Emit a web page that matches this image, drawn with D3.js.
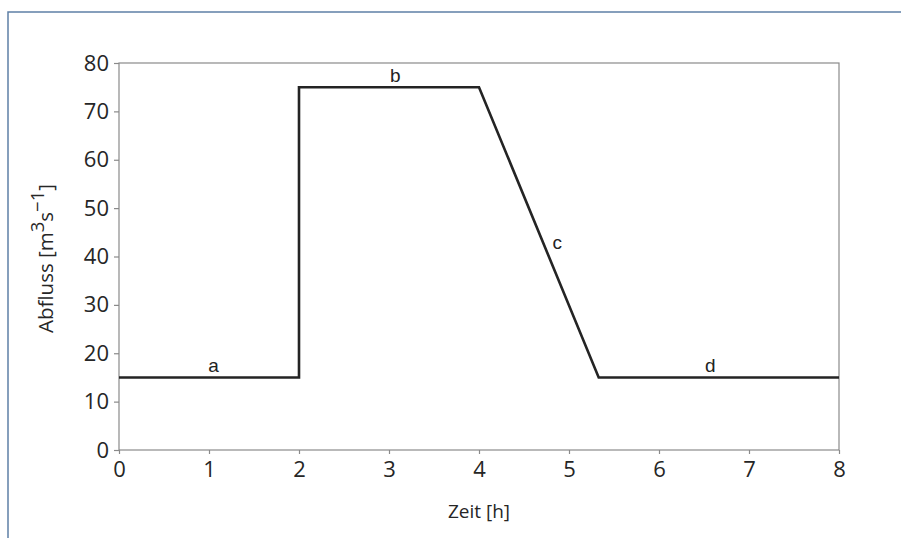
<!DOCTYPE html>
<html>
<head>
<meta charset="utf-8">
<script src="https://cdn.jsdelivr.net/npm/d3@7"></script>
<style>
  body { margin: 0; background: #fff; }
  svg { display: block; }
</style>
</head>
<body>
<svg id="chart" width="901" height="538"></svg>
<script>
// hydrograph: time in hours, discharge in m3/s
const zeit = [0, 2, 2, 4, 5.33, 8];
const abfluss = [15, 15, 75, 75, 15, 15];
const xTicks = [0, 1, 2, 3, 4, 5, 6, 7, 8];
const yTicks = [0, 10, 20, 30, 40, 50, 60, 70, 80];
const segLabels = ["a", "b", "c", "d"];
const segX = [1.05, 3.07, 4.87, 6.57];
const segY = [15, 75, 43, 15];

const svg = d3.select("#chart");
const margin = {top: 63, right: 62, bottom: 88, left: 119};
const width = 901 - margin.left - margin.right,
	height = 538 - margin.top - margin.bottom;

// outer frame (top + left only)
svg.append("path")
	.attr("d", "M8,538 L8,12 L901,12")
	.style("fill", "none")
	.style("stroke", "#5f80a6")
	.style("stroke-width", 1.5);

const g = svg.append("g")
	.attr("transform", "translate(" + margin.left + "," + margin.top + ")");

const x = d3.scaleLinear().domain([0, 8]).range([0, width]);
const y = d3.scaleLinear().domain([0, 80]).range([height, 0]);

// plot box
g.append("rect")
	.attr("width", width)
	.attr("height", height)
	.style("fill", "none")
	.style("stroke", "#8a8a8a")
	.style("stroke-width", 1.2);

const xAxis = g.append("g")
	.attr("transform", "translate(0," + height + ")")
	.call(d3.axisBottom(x).tickValues(xTicks).tickSize(4).tickPadding(7).tickFormat(d3.format("d")));

const yAxis = g.append("g")
	.call(d3.axisLeft(y).tickValues(yTicks).tickSize(5).tickPadding(5).tickFormat(d3.format("d")));

[xAxis, yAxis].forEach(a => {
	a.attr("font-size", null).attr("font-family", null);
	a.select(".domain").remove();
	a.selectAll(".tick line").style("stroke", "#8a8a8a").style("stroke-width", 1.2);
	a.selectAll(".tick text")
		.style("font-family", "'Open Sans', sans-serif")
		.style("font-size", "22px")
		.style("fill", "#262626");
});

const pts = zeit.map((t, i) => [t, abfluss[i]]);
const line = d3.line().x(d => x(d[0])).y(d => y(d[1]));

g.append("path")
	.datum(pts)
	.attr("d", line)
	.style("fill", "none")
	.style("stroke", "#242424")
	.style("stroke-width", 2.6)
	.style("stroke-linejoin", "miter");

g.selectAll(".segLabel")
	.data(segLabels)
	.enter()
	.append("text")
	.attr("class", "segLabel")
	.attr("x", (d, i) => x(segX[i]))
	.attr("y", (d, i) => i == 2 ? y(segY[i]) + 7 : y(segY[i]) - 5)
	.attr("text-anchor", "middle")
	.style("font-family", "'Liberation Sans', Arial, sans-serif")
	.style("font-size", "19px")
	.style("fill", "#222")
	.text(d => d);

// axis titles
svg.append("text")
	.attr("x", margin.left + width / 2)
	.attr("y", 518)
	.attr("text-anchor", "middle")
	.style("font-family", "'Open Sans', sans-serif")
	.style("font-size", "19px")
	.style("fill", "#262626")
	.text("Zeit [h]");

const yTitle = svg.append("text")
	.attr("transform", "translate(53," + (margin.top + height / 2 + 2) + ") rotate(-90)")
	.attr("text-anchor", "middle")
	.style("font-family", "'Open Sans', sans-serif")
	.style("font-size", "20.5px")
	.style("fill", "#262626");
yTitle.append("tspan").text("Abfluss [m");
yTitle.append("tspan").attr("dy", -9).style("font-size", "18.5px").text("3");
yTitle.append("tspan").attr("dy", 9).text("s");
yTitle.append("tspan").attr("dy", -9).style("font-size", "18.5px").text("\u22121");
yTitle.append("tspan").attr("dy", 9).text("]");
</script>
</body>
</html>
